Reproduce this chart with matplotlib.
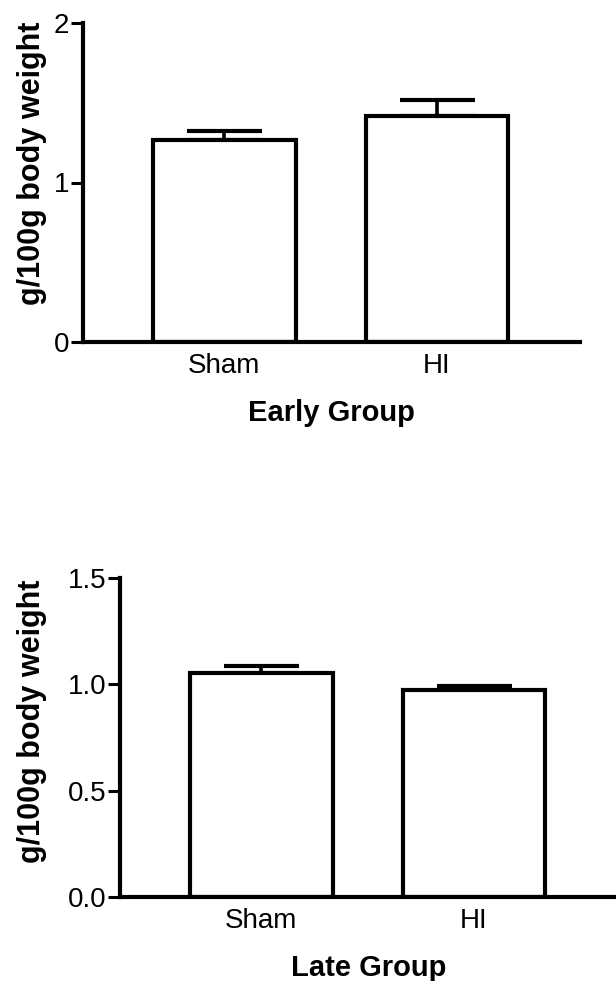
import numpy as np
import matplotlib
matplotlib.use("Agg")
import matplotlib.pyplot as plt

plt.rcParams['font.family'] = ['Liberation Sans', 'DejaVu Sans']

groups = ["Sham", "HI"]

# early group (g/100g body weight), mean and SEM (upper only)
early_mean = [1.265, 1.42]
early_sem = [0.055, 0.10]

# late group
late_mean = [1.053, 0.973]
late_sem = [0.035, 0.018]

fig = plt.figure(figsize=(6.16, 9.81), dpi=100)

# axes rectangles in figure fraction
ax1 = fig.add_axes([83/616, 639/981, (580-83)/616, (958-639)/981])
ax2 = fig.add_axes([120/616, 84/981, (617-120)/616, (403-84)/981])

lw = 3.0


def draw(ax, means, sems, yticks, ticklabels, xlabel, ylab_x, ylab_y):
    x = np.arange(len(groups))
    ax.bar(x, means, width=0.67, color='white', edgecolor='black',
           linewidth=lw, zorder=2)
    ax.errorbar(x, means, yerr=[np.zeros(len(sems)), sems], fmt='none',
                ecolor='black', elinewidth=2.6, capsize=27, capthick=lw,
                zorder=1)
    ax.set_xlim(-0.666, 1.675)
    ax.set_ylim(0, yticks[-1])
    ax.set_yticks(yticks)
    ax.set_yticklabels(ticklabels)
    ax.set_xticks(x)
    ax.set_xticklabels(groups)
    for s in ['top', 'right']:
        ax.spines[s].set_visible(False)
    for s in ['left', 'bottom']:
        ax.spines[s].set_linewidth(lw)
        ax.spines[s].set_capstyle('projecting')
    ax.tick_params(axis='y', length=9, width=2.2, labelsize=20, pad=1)
    ax.tick_params(axis='x', length=0, labelsize=20, pad=8)
    ax.set_ylabel("g/100g body weight", fontsize=22, fontweight='bold')
    ax.yaxis.set_label_coords(ylab_x, ylab_y)
    ax.yaxis.label.set_va('center')
    ax.set_xlabel(xlabel, fontsize=21, fontweight='bold', labelpad=14)
    ax.patch.set_alpha(0)


draw(ax1, early_mean, early_sem, [0, 1, 2], ["0", "1", "2"], "Early Group",
     -0.102, 0.56)
draw(ax2, late_mean, late_sem, [0, 0.5, 1.0, 1.5],
     ["0.0", "0.5", "1.0", "1.5"], "Late Group", -0.178, 0.552)

fig.savefig("out.png", dpi=100)
